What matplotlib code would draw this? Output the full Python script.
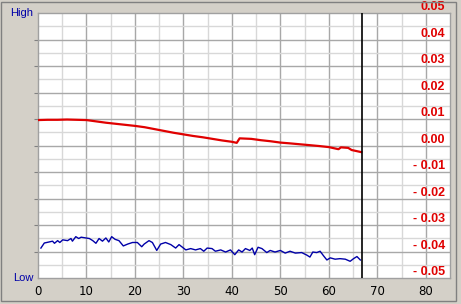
import matplotlib
matplotlib.use("Agg")
import matplotlib.pyplot as plt
from matplotlib.patches import Rectangle

# ---------- data ----------
red_x = [0, 2, 4, 6, 8, 10, 12, 14, 16, 18, 20, 22, 24, 26, 28, 30, 32, 34, 36,
         38, 40, 41, 41.6, 44, 46, 48, 50, 52, 55, 58, 60, 62, 62.5, 64, 64.7, 66.7]
red_y = [0.0096, 0.0097, 0.0097, 0.0098, 0.0097, 0.0096, 0.0091, 0.0086, 0.0082,
         0.0078, 0.0074, 0.0069, 0.0062, 0.0055, 0.0048, 0.0042, 0.0036, 0.0031,
         0.0025, 0.0019, 0.0014, 0.0010, 0.0027, 0.0025, 0.0020, 0.0016, 0.0011,
         0.0008, 0.0003, -0.0002, -0.0006, -0.0014, -0.0007, -0.0009, -0.0017,
         -0.0025]

blue_x = [0.6, 1.3, 2.3, 3.0, 3.4, 4.05, 4.5, 5.1, 6.1, 6.8, 7.1, 7.8, 8.4, 8.9,
          9.9, 10.6, 11.3, 11.95, 12.6, 13.3, 14.0, 14.6, 15.2, 15.9, 16.7, 17.6,
          18.5, 19.5, 20.5, 21.4, 21.9, 22.9, 23.6, 24.5, 25.3, 26.3, 27.4, 28.4,
          29.1, 29.8, 30.5, 31.5, 32.5, 33.5, 34.2, 34.9, 35.9, 36.6, 37.7, 38.7,
          39.7, 40.6, 41.4, 42.1, 42.8, 43.7, 44.2, 44.7, 45.4, 46.2, 47.2, 47.9,
          48.9, 50.0, 51.0, 52.0, 53.1, 54.4, 55.5, 56.1, 56.7, 57.5, 58.2, 58.9,
          59.6, 60.3, 61.3, 62.3, 63.4, 64.4, 65.1, 65.8, 66.5]
blue_y = [-0.0387, -0.0368, -0.0364, -0.0361, -0.0369, -0.0359, -0.0366, -0.0356,
          -0.0359, -0.0351, -0.0361, -0.0344, -0.0351, -0.0346, -0.0349, -0.0351,
          -0.0359, -0.0369, -0.0351, -0.0361, -0.0349, -0.0364, -0.0344, -0.0354,
          -0.0359, -0.0379, -0.0372, -0.0366, -0.0366, -0.0382, -0.0372, -0.0359,
          -0.0366, -0.0396, -0.0372, -0.0366, -0.0374, -0.0387, -0.0374, -0.0384,
          -0.0394, -0.0389, -0.0394, -0.0389, -0.0399, -0.0387, -0.0389, -0.0399,
          -0.0394, -0.0402, -0.0394, -0.0412, -0.0394, -0.0402, -0.0389, -0.0396,
          -0.0387, -0.0412, -0.0384, -0.0389, -0.0404, -0.0396, -0.0402, -0.0396,
          -0.0406, -0.0399, -0.0406, -0.0404, -0.0414, -0.0421, -0.0402, -0.0404,
          -0.0399, -0.0416, -0.0432, -0.0424, -0.0429, -0.0427, -0.0429, -0.0437,
          -0.0427, -0.0419, -0.0432]

cursor_x = 66.8
x_ticks = [0, 10, 20, 30, 40, 50, 60, 70, 80]
y_ticks = [0.05, 0.04, 0.03, 0.02, 0.01, 0.0, -0.01, -0.02, -0.03, -0.04, -0.05]
y_labels = ["0.05", "0.04", "0.03", "0.02", "0.01", "0.00",
            "- 0.01", "- 0.02", "- 0.03", "- 0.04", "- 0.05"]

# ---------- style ----------
BG = "#d4d0c8"
RED = "#e00000"
BLUE = "#0000a8"
MAJOR = "#a8a8a8"
MINOR = "#d8d8d8"

W, H = 461, 304
fig = plt.figure(figsize=(W / 100, H / 100), dpi=100, facecolor=BG)
ax = fig.add_axes([38 / W, 1 - 278 / H, (450 - 38) / W, (278 - 13) / H])
ax.set_facecolor("white")
ax.set_xlim(0, 85)
ax.set_ylim(-0.05, 0.05)

# grid: majors every 10 / 0.01, minors every 5 / 0.005
for i in range(1, 17):
    ax.axvline(i * 5, color=MAJOR if i % 2 == 0 else MINOR, lw=1, zorder=0)
for i in range(-9, 10):
    ax.axhline(i * 0.005, color=MAJOR if i % 2 == 0 else MINOR, lw=1, zorder=0)

ax.plot(red_x, red_y, color=RED, lw=1.6, zorder=3)
ax.plot(blue_x, blue_y, color=BLUE, lw=1, zorder=3)
ax.axvline(cursor_x, color="black", lw=1.2, zorder=4)

# value labels sit just above their gridline, inside the right edge
for v, lab in zip(y_ticks, y_labels):
    ax.text(84, v + 0.0021, lab, ha="right", va="center", color=RED,
            fontsize=9, fontweight="bold", clip_on=False,
            family=["Liberation Sans", "DejaVu Sans"], zorder=5)

ax.set_xticks(x_ticks)
ax.set_yticks([t for t in y_ticks if abs(t) < 0.05])
ax.tick_params(axis="x", length=0, pad=5, labelsize=8.5, colors="black")
ax.tick_params(axis="y", length=3, color="#808080", labelleft=False)
for s in ax.spines.values():
    s.set_color("#a0a0a0")
    s.set_linewidth(1)

fig.text(33 / W, 1 - 13 / H, "High", ha="right", va="center", color=BLUE,
         fontsize=8, family=["Liberation Sans", "DejaVu Sans"])
fig.text(33 / W, 1 - 278 / H, "Low", ha="right", va="center", color=BLUE,
         fontsize=8, family=["Liberation Sans", "DejaVu Sans"])

# sunken window frame
fig.patches.append(Rectangle((1 / W, 1 - 301 / H), 455 / W, 299 / H, fill=False,
                             edgecolor="#808080", lw=1, transform=fig.transFigure))

fig.savefig("out.png", dpi=100, facecolor=BG)
